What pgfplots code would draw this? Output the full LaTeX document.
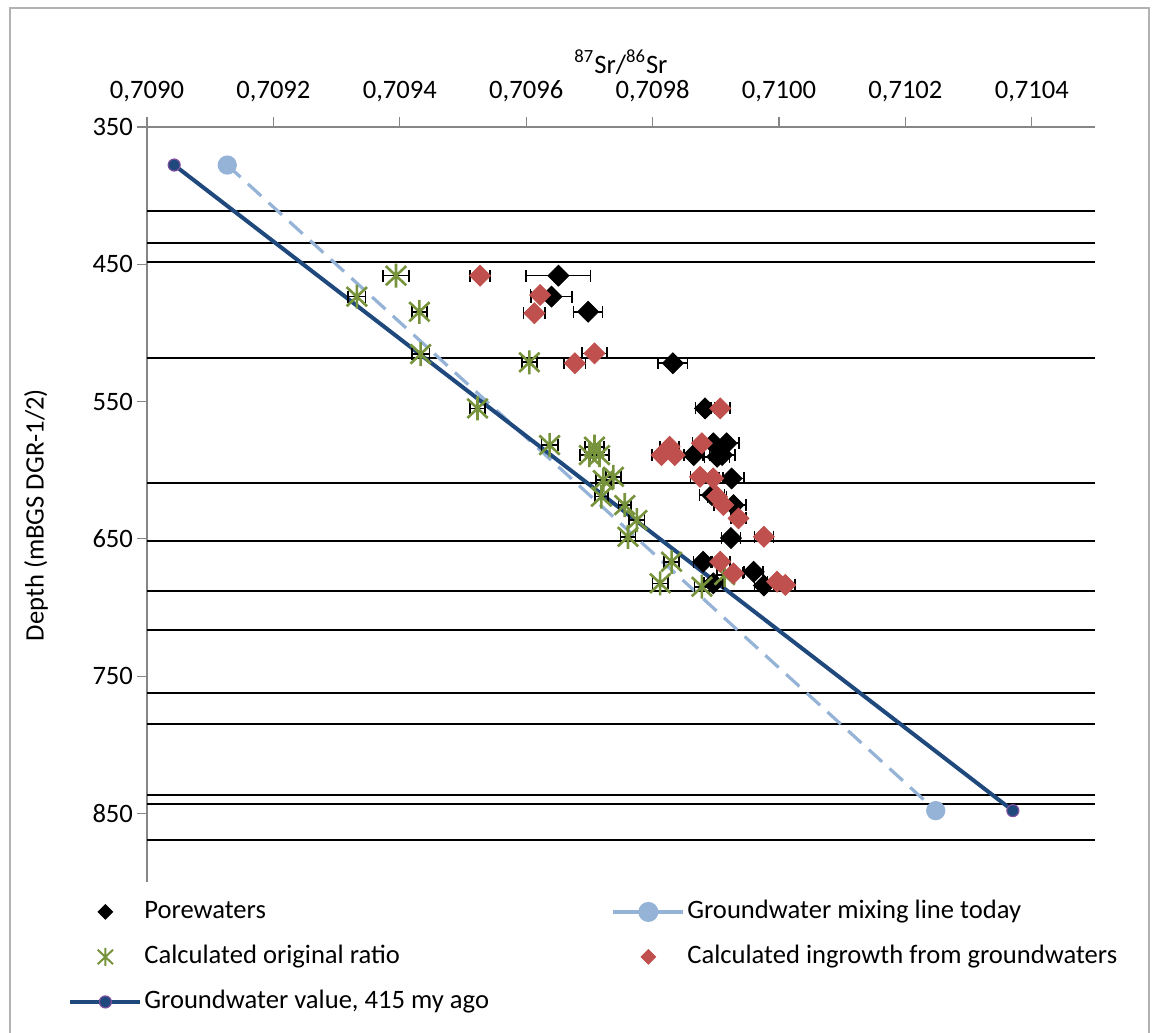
\documentclass[border=0pt]{standalone}
\usepackage{fontspec}
\setmainfont{Carlito}
\usepackage{pgfplots}
\pgfplotsset{compat=1.18}
\usepackage{pgfplotstable}
\definecolor{lblue}{HTML}{95B3D7}
\definecolor{dblue}{HTML}{1F497D}
\definecolor{mpurple}{HTML}{7F4F9F}
\definecolor{ogreen}{HTML}{77933C}
\definecolor{ired}{HTML}{C0504D}
\definecolor{axgray}{HTML}{868686}

\pgfdeclareplotmark{xstar}{%
  \pgfpathmoveto{\pgfqpoint{0pt}{-\pgfplotmarksize}}%
  \pgfpathlineto{\pgfqpoint{0pt}{\pgfplotmarksize}}%
  \pgfpathmoveto{\pgfqpoint{-.85\pgfplotmarksize}{-.8\pgfplotmarksize}}%
  \pgfpathlineto{\pgfqpoint{.85\pgfplotmarksize}{.8\pgfplotmarksize}}%
  \pgfpathmoveto{\pgfqpoint{-.85\pgfplotmarksize}{.8\pgfplotmarksize}}%
  \pgfpathlineto{\pgfqpoint{.85\pgfplotmarksize}{-.8\pgfplotmarksize}}%
  \pgfusepathqstroke}

\pgfplotstableread{
x y e
0.709651 458.3 0.000051
0.709640 473.6 0.000032
0.709698 484.6 0.000023
0.709832 522.1 0.000023
0.709883 555.0 0.000015
0.709896 580.4 0.000020
0.709917 580.4 0.000020
0.709865 589.0 0.000015
0.709902 590.2 0.000020
0.709910 589.0 0.000020
0.709925 606.0 0.000020
0.709894 618.1 0.000020
0.709928 625.4 0.000020
0.709924 649.4 0.000015
0.709880 666.7 0.000015
0.709960 674.0 0.000015
0.709896 682.4 0.000015
0.709976 684.0 0.000015
}\porewaters

\pgfplotstableread{
x y e
0.709394 458.3 0.000021
0.709332 473.6 0.000014
0.709431 484.6 0.000012
0.709433 515.4 0.000014
0.709605 521.4 0.000012
0.709523 555.0 0.000012
0.709637 581.7 0.000013
0.709708 582.9 0.000015
0.709700 589.0 0.000015
0.709716 589.0 0.000015
0.709722 607.2 0.000012
0.709738 604.8 0.000012
0.709719 619.3 0.000010
0.709756 625.4 0.000010
0.709775 636.3 0.000012
0.709761 648.5 0.000012
0.709830 666.7 0.000012
0.709914 676.4 0.000012
0.709812 682.4 0.000012
0.709878 684.9 0.000012
}\original

\pgfplotstableread{
x y e
0.709527 458.3 0.000016
0.709622 472.4 0.000015
0.709613 485.7 0.000017
0.709708 514.9 0.000020
0.709677 522.1 0.000017
0.709907 555.0 0.000015
0.709827 582.9 0.000015
0.709814 589.0 0.000015
0.709835 589.0 0.000015
0.709878 580.4 0.000015
0.709875 604.8 0.000015
0.709896 606.0 0.000015
0.709902 619.3 0.000015
0.709912 625.4 0.000015
0.709936 635.1 0.000012
0.709976 648.5 0.000015
0.709907 666.7 0.000015
0.709928 675.1 0.000015
0.709997 681.2 0.000015
0.710010 683.6 0.000015
}\ingrowth

\pgfplotsset{
  ebar/.style={error bars/.cd, x dir=both, x explicit, error mark=|,
    error bar style={black, line width=0.8pt, solid},
    error mark options={black, mark size=3pt, line width=0.8pt}}
}

\begin{document}
\begin{tikzpicture}
\useasboundingbox (0,0) rectangle (576pt,-516.5pt);
\draw[gray!60, line width=0.6pt] (5pt,-530pt) -- (5pt,-4pt) -- (574.5pt,-4pt) -- (574.5pt,-530pt);
\begin{axis}[
  at={(73.5pt,-63.5pt)}, anchor=north west,
  scale only axis, width=474pt, height=377.5pt,
  xmin=0.709, xmax=0.7105, ymin=350, ymax=900,
  y dir=reverse,
  axis x line*=top, axis y line*=left,
  axis line style={-, axgray, line width=0.8pt},
  tick style={axgray, line width=0.6pt},
  tick align=outside, major tick length=5pt,
  xtick={0.709,0.7092,0.7094,0.7096,0.7098,0.71,0.7102,0.7104},
  ytick={350,450,550,650,750,850},
  scaled x ticks=false,
  font=\fontsize{13.3}{16}\selectfont,
  tick label style={font=\fontsize{13.3}{16}\selectfont},
  xticklabel style={yshift=4pt, /pgf/number format/.cd, fixed, fixed zerofill, precision=4, use comma, assume math mode=true},
  yticklabel style={xshift=1.5pt, /pgf/number format/assume math mode=true},
  xlabel={\textsuperscript{87}Sr/\textsuperscript{86}Sr},
  xlabel style={at={(axis description cs:0.5,1.0861)}, anchor=center},
  ylabel={Depth (mBGS DGR-1/2)},
  ylabel style={at={(axis description cs:-0.117,0.486)}, anchor=center},
  legend columns=2,
  legend cell align=left,
  legend image code/.code={\draw[mark repeat=2,mark phase=2] plot coordinates {(0pt,0pt) (17.5pt,0pt) (35pt,0pt)};},
  legend style={at={(axis description cs:-0.0897,-0.0146)}, anchor=north west,
    draw=none, fill=none, font=\fontsize{13.3}{16}\selectfont,
    row sep=8pt, column sep=0pt,
    nodes={inner sep=1pt, text height=9.5pt, text depth=3pt}},
]
% legend entries
\addlegendimage{only marks, mark=square*, mark options={rotate=45, fill=black, draw=black}, mark size=2.6pt}
\addlegendentry{\makebox[232.5pt][l]{Porewaters}}
\addlegendimage{lblue, line width=2pt, solid, mark=*, mark size=4pt, mark options={fill=lblue, draw=lblue}}
\addlegendentry{Groundwater mixing line today}
\addlegendimage{only marks, mark=xstar, mark size=4.5pt, mark options={ogreen, line width=1pt}}
\addlegendentry{\makebox[232.5pt][l]{Calculated original ratio}}
\addlegendimage{only marks, mark=square*, mark options={rotate=45, fill=ired, draw=ired}, mark size=2.6pt}
\addlegendentry{Calculated ingrowth from groundwaters}
\addlegendimage{dblue, line width=2pt, mark=*, mark size=3pt, mark options={fill=dblue, draw=mpurple, line width=0.6pt}}
\addlegendentry{Groundwater value, 415 my ago}

% stratigraphic boundaries
\pgfplotsinvokeforeach{411.3,434.5,448,518.4,609.4,651.9,688.2,716.1,762.2,785,836.6,843.1,869.6}{
  \addplot[black, line width=1pt, forget plot] coordinates {(0.709,#1) (0.7105,#1)};
}

% mixing line today
\addplot[lblue, line width=1.6pt, dash pattern=on 9pt off 5pt, mark=*, mark size=4pt,
  mark options={solid, fill=lblue, draw=lblue}, forget plot]
  coordinates {(0.709127,377.7) (0.710248,848)};
% groundwater value 415 my ago
\addplot[dblue, line width=2pt, mark=*, mark size=3pt,
  mark options={fill=dblue, draw=mpurple, line width=0.6pt}, forget plot]
  coordinates {(0.709043,377.7) (0.710370,848)};

% porewaters
\addplot[only marks, mark=square*, mark size=3.7pt, mark options={rotate=45, fill=black, draw=black}, forget plot, ebar]
  table[x=x, y=y, x error=e] {\porewaters};
% original ratio
\addplot[only marks, mark=xstar, mark size=6pt, mark options={ogreen, line width=1.3pt}, forget plot, ebar]
  table[x=x, y=y, x error=e] {\original};
% ingrowth
\addplot[only marks, mark=square*, mark size=3.7pt, mark options={rotate=45, fill=ired, draw=ired}, forget plot, ebar]
  table[x=x, y=y, x error=e] {\ingrowth};
\end{axis}
\end{tikzpicture}
\end{document}
